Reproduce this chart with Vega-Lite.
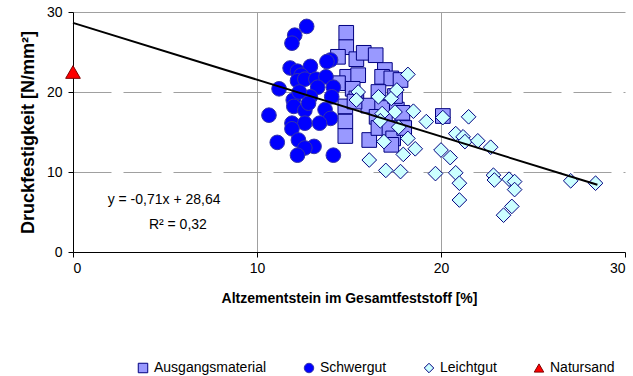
{
  "$schema": "https://vega.github.io/schema/vega-lite/v6.json",
  "width": 552,
  "height": 240,
  "autosize": {"type": "none"},
  "padding": {"left": 73, "top": 12, "right": 8, "bottom": 124},
  "background": "white",
  "config": {
    "font": "Liberation Sans",
    "view": {"stroke": null},
    "axis": {
      "labelFont": "Liberation Sans",
      "titleFont": "Liberation Sans",
      "labelFontSize": 14,
      "labelColor": "#000000",
      "titleColor": "#000000",
      "domainColor": "#000000",
      "tickColor": "#000000",
      "tickSize": 5,
      "titleFontWeight": "bold"
    },
    "legend": {
      "labelFont": "Liberation Sans",
      "labelFontSize": 14,
      "labelColor": "#000000",
      "orient": "none",
      "legendX": 63,
      "legendY": 349,
      "direction": "horizontal",
      "columnPadding": 35,
      "symbolSize": 90,
      "symbolStrokeWidth": 1,
      "labelOffset": 4,
      "title": null
    }
  },
  "datasets": {
    "pts": [
      {"series": "Ausgangsmaterial", "x": 14.85, "y": 27.4},
      {"series": "Ausgangsmaterial", "x": 14.85, "y": 25.6},
      {"series": "Ausgangsmaterial", "x": 14.4, "y": 24.4},
      {"series": "Ausgangsmaterial", "x": 15.4, "y": 24.1},
      {"series": "Ausgangsmaterial", "x": 15.8, "y": 24.9},
      {"series": "Ausgangsmaterial", "x": 16.45, "y": 24.6},
      {"series": "Ausgangsmaterial", "x": 14.9, "y": 21.9},
      {"series": "Ausgangsmaterial", "x": 15.5, "y": 22.1},
      {"series": "Ausgangsmaterial", "x": 16.95, "y": 22.75},
      {"series": "Ausgangsmaterial", "x": 16.8, "y": 21.9},
      {"series": "Ausgangsmaterial", "x": 17.3, "y": 21.7},
      {"series": "Ausgangsmaterial", "x": 17.8, "y": 21.5},
      {"series": "Ausgangsmaterial", "x": 14.4, "y": 21.1},
      {"series": "Ausgangsmaterial", "x": 15.2, "y": 20.4},
      {"series": "Ausgangsmaterial", "x": 16.6, "y": 20.0},
      {"series": "Ausgangsmaterial", "x": 15.4, "y": 19.2},
      {"series": "Ausgangsmaterial", "x": 16.05, "y": 18.3},
      {"series": "Ausgangsmaterial", "x": 14.8, "y": 18.2},
      {"series": "Ausgangsmaterial", "x": 16.8, "y": 18.0},
      {"series": "Ausgangsmaterial", "x": 17.6, "y": 17.8},
      {"series": "Ausgangsmaterial", "x": 17.9, "y": 17.4},
      {"series": "Ausgangsmaterial", "x": 16.5, "y": 16.9},
      {"series": "Ausgangsmaterial", "x": 16.95, "y": 16.5},
      {"series": "Ausgangsmaterial", "x": 14.8, "y": 16.3},
      {"series": "Ausgangsmaterial", "x": 14.8, "y": 14.5},
      {"series": "Ausgangsmaterial", "x": 16.1, "y": 14.0},
      {"series": "Ausgangsmaterial", "x": 16.6, "y": 15.5},
      {"series": "Ausgangsmaterial", "x": 17.2, "y": 15.5},
      {"series": "Ausgangsmaterial", "x": 17.4, "y": 14.2},
      {"series": "Ausgangsmaterial", "x": 17.3, "y": 13.4},
      {"series": "Ausgangsmaterial", "x": 18.0, "y": 15.5},
      {"series": "Ausgangsmaterial", "x": 20.1, "y": 17.0},
      {"series": "Ausgangsmaterial", "x": 15.3, "y": 18.8},
      {"series": "Ausgangsmaterial", "x": 17.5, "y": 19.5},
      {"series": "Schwergut", "x": 12.7, "y": 28.2},
      {"series": "Schwergut", "x": 12.05, "y": 27.1},
      {"series": "Schwergut", "x": 11.9, "y": 26.1},
      {"series": "Schwergut", "x": 14.0, "y": 24.0},
      {"series": "Schwergut", "x": 13.8, "y": 23.8},
      {"series": "Schwergut", "x": 11.8, "y": 23.0},
      {"series": "Schwergut", "x": 12.2, "y": 22.6},
      {"series": "Schwergut", "x": 12.9, "y": 23.2},
      {"series": "Schwergut", "x": 12.4, "y": 22.1},
      {"series": "Schwergut", "x": 12.2, "y": 21.4},
      {"series": "Schwergut", "x": 12.6, "y": 21.6},
      {"series": "Schwergut", "x": 13.2, "y": 21.6},
      {"series": "Schwergut", "x": 13.75, "y": 21.9},
      {"series": "Schwergut", "x": 11.2, "y": 20.4},
      {"series": "Schwergut", "x": 13.3, "y": 20.6},
      {"series": "Schwergut", "x": 14.15, "y": 20.6},
      {"series": "Schwergut", "x": 11.97, "y": 19.0},
      {"series": "Schwergut", "x": 12.9, "y": 19.4},
      {"series": "Schwergut", "x": 14.06, "y": 19.4},
      {"series": "Schwergut", "x": 10.65, "y": 17.1},
      {"series": "Schwergut", "x": 12.0, "y": 18.2},
      {"series": "Schwergut", "x": 12.6, "y": 17.7},
      {"series": "Schwergut", "x": 13.7, "y": 17.8},
      {"series": "Schwergut", "x": 14.0, "y": 16.7},
      {"series": "Schwergut", "x": 11.9, "y": 16.1},
      {"series": "Schwergut", "x": 12.6, "y": 16.1},
      {"series": "Schwergut", "x": 13.4, "y": 16.1},
      {"series": "Schwergut", "x": 11.9, "y": 15.4},
      {"series": "Schwergut", "x": 12.25, "y": 14.0},
      {"series": "Schwergut", "x": 11.1, "y": 13.7},
      {"series": "Schwergut", "x": 13.1, "y": 13.2},
      {"series": "Schwergut", "x": 12.6, "y": 13.0},
      {"series": "Schwergut", "x": 12.2, "y": 12.1},
      {"series": "Schwergut", "x": 14.15, "y": 12.1},
      {"series": "Schwergut", "x": 12.3, "y": 20.0},
      {"series": "Schwergut", "x": 12.8, "y": 18.6},
      {"series": "Leichtgut", "x": 18.2, "y": 22.2},
      {"series": "Leichtgut", "x": 15.5, "y": 20.0},
      {"series": "Leichtgut", "x": 16.6, "y": 19.4},
      {"series": "Leichtgut", "x": 17.3, "y": 19.2},
      {"series": "Leichtgut", "x": 17.6, "y": 20.25},
      {"series": "Leichtgut", "x": 17.5, "y": 17.5},
      {"series": "Leichtgut", "x": 18.5, "y": 17.6},
      {"series": "Leichtgut", "x": 16.8, "y": 17.3},
      {"series": "Leichtgut", "x": 16.7, "y": 16.4},
      {"series": "Leichtgut", "x": 19.2, "y": 16.3},
      {"series": "Leichtgut", "x": 20.1, "y": 16.8},
      {"series": "Leichtgut", "x": 21.5, "y": 16.9},
      {"series": "Leichtgut", "x": 17.7, "y": 15.6},
      {"series": "Leichtgut", "x": 18.2, "y": 14.2},
      {"series": "Leichtgut", "x": 16.9, "y": 13.8},
      {"series": "Leichtgut", "x": 18.6, "y": 12.9},
      {"series": "Leichtgut", "x": 17.95, "y": 12.2},
      {"series": "Leichtgut", "x": 16.1, "y": 11.5},
      {"series": "Leichtgut", "x": 20.8, "y": 14.8},
      {"series": "Leichtgut", "x": 21.2, "y": 14.4},
      {"series": "Leichtgut", "x": 21.3, "y": 13.8},
      {"series": "Leichtgut", "x": 22.0, "y": 13.9},
      {"series": "Leichtgut", "x": 22.7, "y": 13.1},
      {"series": "Leichtgut", "x": 20.0, "y": 12.75},
      {"series": "Leichtgut", "x": 20.5, "y": 11.8},
      {"series": "Leichtgut", "x": 17.0, "y": 10.2},
      {"series": "Leichtgut", "x": 17.8, "y": 10.05},
      {"series": "Leichtgut", "x": 19.7, "y": 9.8},
      {"series": "Leichtgut", "x": 20.8, "y": 9.9},
      {"series": "Leichtgut", "x": 21.0, "y": 8.6},
      {"series": "Leichtgut", "x": 21.0, "y": 6.5},
      {"series": "Leichtgut", "x": 22.85, "y": 9.6},
      {"series": "Leichtgut", "x": 22.9, "y": 9.0},
      {"series": "Leichtgut", "x": 23.7, "y": 9.1},
      {"series": "Leichtgut", "x": 24.0, "y": 8.8},
      {"series": "Leichtgut", "x": 24.0, "y": 7.8},
      {"series": "Leichtgut", "x": 23.85, "y": 5.7},
      {"series": "Leichtgut", "x": 23.4, "y": 4.6},
      {"series": "Leichtgut", "x": 27.05, "y": 8.9},
      {"series": "Leichtgut", "x": 28.4, "y": 8.6},
      {"series": "Leichtgut", "x": 15.4, "y": 19.0},
      {"series": "Natursand", "x": 0, "y": 22.5}
    ],
    "trend": [
      {"x": 0, "y": 28.64},
      {"x": 28.5, "y": 8.4}
    ],
    "notes": [
      {"x": 4.95, "y": 6.5, "label": "y = -0,71x + 28,64"},
      {"x": 5.7, "y": 3.4, "label": "R² = 0,32"}
    ]
  },
  "layer": [
    {
      "data": {"name": "pts"},
      "mark": {"type": "point", "filled": true, "strokeWidth": 1, "opacity": 1, "size": 215},
      "encoding": {
        "x": {
          "field": "x", "type": "quantitative",
          "scale": {"domain": [0, 30], "nice": false, "zero": false},
          "axis": {
            "values": [0, 10, 20, 30],
            "title": "Altzementstein im Gesamtfeststoff [%]",
            "titleFontSize": 14,
            "titlePadding": 16,
            "labelPadding": 4,
            "grid": true,
            "gridColor": {"condition": {"test": "datum.value === 10 || datum.value === 20", "value": "#a0a0a0"}, "value": "transparent"},
            "gridWidth": 1
          }
        },
        "y": {
          "field": "y", "type": "quantitative",
          "scale": {"domain": [0, 30], "nice": false, "zero": false},
          "axis": {
            "values": [0, 10, 20, 30],
            "title": "Druckfestigkeit [N/mm²]",
            "titleFontSize": 18,
            "titlePadding": 9,
            "labelPadding": 6,
            "grid": true,
            "gridColor": {"condition": {"test": "datum.value === 0", "value": "transparent"}, "value": "#a0a0a0"},
            "gridDash": {"condition": {"test": "datum.value === 30", "value": []}, "value": [38, 12]},
            "gridWidth": 1
          }
        },
        "shape": {
          "field": "series", "type": "nominal",
          "scale": {"domain": ["Ausgangsmaterial", "Schwergut", "Leichtgut", "Natursand"], "range": ["square", "circle", "diamond", "triangle-up"]}
        },
        "fill": {
          "field": "series", "type": "nominal",
          "scale": {"domain": ["Ausgangsmaterial", "Schwergut", "Leichtgut", "Natursand"], "range": ["#9999FF", "#0000FF", "#CCFFFF", "#FF0000"]}
        },
        "stroke": {
          "field": "series", "type": "nominal",
          "scale": {"domain": ["Ausgangsmaterial", "Schwergut", "Leichtgut", "Natursand"], "range": ["#000080", "#3333AA", "#000080", "#800000"]}
        }
      }
    },
    {
      "data": {"name": "trend"},
      "mark": {"type": "line", "color": "#000000", "strokeWidth": 2},
      "encoding": {
        "x": {"field": "x", "type": "quantitative"},
        "y": {"field": "y", "type": "quantitative"}
      }
    },
    {
      "data": {"name": "notes"},
      "mark": {"type": "text", "fontSize": 14, "font": "Liberation Sans", "color": "#000000", "align": "center", "baseline": "middle"},
      "encoding": {
        "x": {"field": "x", "type": "quantitative"},
        "y": {"field": "y", "type": "quantitative"},
        "text": {"field": "label"}
      }
    }
  ]
}
